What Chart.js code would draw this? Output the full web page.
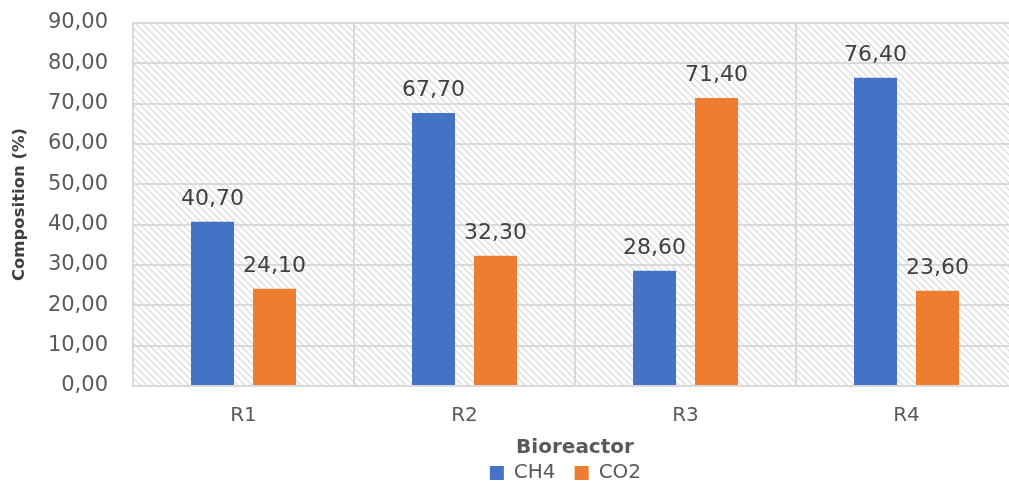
<!DOCTYPE html>
<html>
<head>
<meta charset="utf-8">
<script src="https://cdn.jsdelivr.net/npm/chart.js@4/dist/chart.umd.min.js"></script>
<style>
  html, body { margin: 0; padding: 0; background: #ffffff; overflow: hidden; }
  #wrap { position: absolute; left: 0; top: 0; width: 1020px; height: 493px; }
</style>
</head>
<body>
<div id="wrap"><canvas id="chart"></canvas></div>
<script>
// Bioreactor gas composition
const categories = ['R1', 'R2', 'R3', 'R4'];
const ch4 = [40.70, 67.70, 28.60, 76.40];
const co2 = [24.10, 32.30, 71.40, 23.60];
const seriesNames = ['CH4', 'CO2'];
const yTicks = [0, 10, 20, 30, 40, 50, 60, 70, 80, 90];

const FONT = 'DejaVu Sans';
const fmt = v => v.toFixed(2).replace('.', ',');

// diagonal hatch used as the plot-area fill
function makeHatch() {
  const s = 7;
  const c = document.createElement('canvas');
  c.width = s; c.height = s;
  const g = c.getContext('2d');
  g.strokeStyle = '#d6d6d6';
  g.lineWidth = 1.1;
  g.beginPath();
  g.moveTo(-1, -1); g.lineTo(s + 1, s + 1);
  g.moveTo(-1, s - 1); g.lineTo(1, s + 1);
  g.moveTo(s - 1, -1); g.lineTo(s + 1, 1);
  g.stroke();
  return g.createPattern(c, 'repeat');
}

const hatchBg = {
  id: 'hatchBg',
  beforeDraw(chart) {
    const { ctx, chartArea: a } = chart;
    ctx.save();
    ctx.fillStyle = makeHatch();
    ctx.fillRect(a.left, a.top, a.right - a.left, a.bottom - a.top);
    ctx.restore();
  }
};

const valueLabels = {
  id: 'valueLabels',
  afterDatasetsDraw(chart) {
    const ctx = chart.ctx;
    ctx.save();
    ctx.font = '22px "' + FONT + '"';
    ctx.fillStyle = '#404040';
    ctx.textAlign = 'center';
    ctx.textBaseline = 'alphabetic';
    chart.data.datasets.forEach((ds, i) => {
      chart.getDatasetMeta(i).data.forEach((bar, j) => {
        ctx.fillText(fmt(ds.data[j]), bar.x, bar.y - 17);
      });
    });
    ctx.restore();
  }
};

new Chart(document.getElementById('chart'), {
  type: 'bar',
  data: {
    labels: categories,
    datasets: [
      { label: seriesNames[0], data: ch4, backgroundColor: '#4472C4' },
      { label: seriesNames[1], data: co2, backgroundColor: '#ED7D31' }
    ]
  },
  options: {
    responsive: true,
    maintainAspectRatio: false,
    animation: false,
    datasets: { bar: { categoryPercentage: 0.561, barPercentage: 0.694 } },
    layout: { padding: { left: 0, top: 23, right: 3, bottom: 0 } },
    plugins: {
      legend: {
        position: 'bottom',
        fullSize: false,
        labels: {
          font: { family: FONT, size: 20 },
          color: '#595959',
          boxWidth: 14, boxHeight: 14,
          padding: 0,
          // trailing gap after every entry
          generateLabels(chart) {
            const items = Chart.defaults.plugins.legend.labels.generateLabels(chart);
            items.forEach(it => { it.text += '   '; });
            return items;
          }
        }
      },
      tooltip: { enabled: false }
    },
    scales: {
      x: {
        afterFit: s => { s.height = 77; },
        grid: { offset: true, color: '#d9d9d9', lineWidth: 2, drawTicks: false },
        border: { color: '#d9d9d9', width: 2 },
        ticks: { font: { family: FONT, size: 20 }, color: '#595959', padding: 18 },
        title: {
          display: true, text: 'Bioreactor',
          font: { family: FONT, size: 20, weight: 'bold' }, color: '#595959',
          padding: { top: 0, bottom: 3 }
        }
      },
      y: {
        min: 0, max: 90,
        afterBuildTicks: s => { s.ticks = yTicks.map(v => ({ value: v })); },
        afterFit: s => { s.width = 133; },
        grid: { color: '#d9d9d9', lineWidth: 2, drawTicks: true, tickLength: 17, tickColor: 'rgba(0,0,0,0)' },
        border: { color: '#d9d9d9', width: 2 },
        ticks: { font: { family: FONT, size: 21 }, color: '#595959', padding: 8, callback: v => fmt(v) },
        title: {
          display: true, text: 'Composition (%)',
          font: { family: FONT, size: 16.5, weight: 'bold' }, color: '#404040',
          padding: { top: 10, bottom: 0 }
        }
      }
    }
  },
  plugins: [hatchBg, valueLabels]
});
</script>
</body>
</html>
